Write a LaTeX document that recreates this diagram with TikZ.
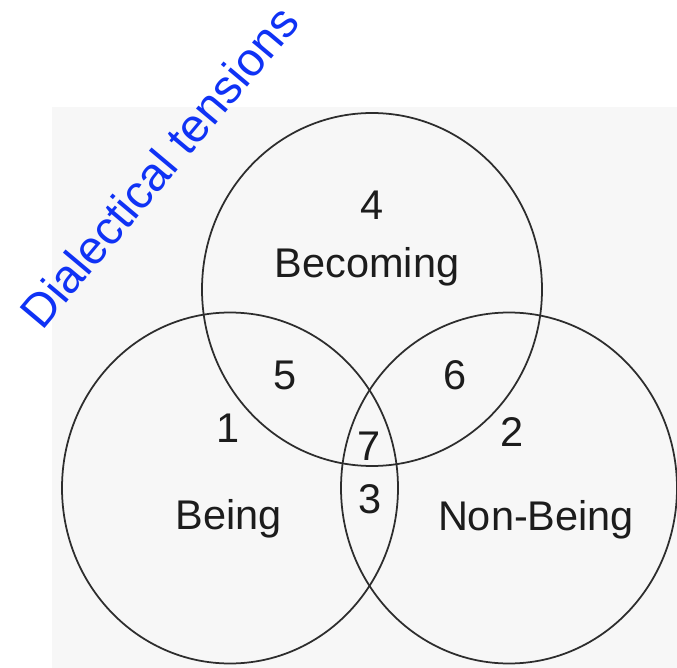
\documentclass[tikz,border=0pt]{standalone}
\usepackage{fontspec}
\setmainfont{Liberation Sans}
\definecolor{bggray}{RGB}{247,247,247}
\definecolor{linegray}{RGB}{45,45,45}
\definecolor{textgray}{RGB}{28,28,28}
\definecolor{titleblue}{RGB}{15,50,245}
\begin{document}
\begin{tikzpicture}[
        x=0.025cm,
        y=-0.025cm,
        venn/.style={draw=linegray, line width=1.25pt},
        lbl/.style={anchor=base, inner sep=0, text=textgray,
                    font=\fontsize{29.5}{35}\selectfont}
    ]

    % ---------- 几何参数 ----------
    \def\rxTop{170}    % 上圆水平半径
    \def\ryTop{176.5}  % 上圆竖直半径
    \def\rxLow{168}    % 下两圆水平半径
    \def\ryLow{175.5}  % 下两圆竖直半径

    % 画布与背景
    \useasboundingbox (0,0) rectangle (677,668);
    \fill[bggray] (52,107) rectangle (677,668);

    % ---------- 圆心 ----------
    \coordinate (becoming) at (372,289.5);
    \coordinate (being)    at (230,488);
    \coordinate (nonbeing) at (509,488);

    % ---------- 三个圆 ----------
    \draw[venn] (becoming) ellipse [x radius=\rxTop, y radius=\ryTop];
    \draw[venn] (being)    ellipse [x radius=\rxLow, y radius=\ryLow];
    \draw[venn] (nonbeing) ellipse [x radius=\rxLow, y radius=\ryLow];

    % ---------- 区域标注 ----------
    \node[lbl] (n4) at (372,220) {4};
    \node[lbl] (tBecoming) at (367,278) {Becoming};
    \node[lbl] (n5) at (285,390) {5};
    \node[lbl] (n6) at (455,390) {6};
    \node[lbl] (n1) at (228,443) {1};
    \node[lbl] (n2) at (512,446) {2};
    \node[lbl] (n7) at (369,460) {7};
    \node[lbl] (n3) at (370,513) {3};
    \node[lbl] (tBeing) at (229,529) {Being};
    \node[lbl] (tNonBeing) at (536,530) {Non-Being};

    % ---------- 标题 ----------
    \node[anchor=base west, inner sep=0, rotate=50, text=titleblue,
          font=\fontsize{33.5}{40}\selectfont] (title) at (42,332)
        {Dialectical tensions};

\end{tikzpicture}
\end{document}
